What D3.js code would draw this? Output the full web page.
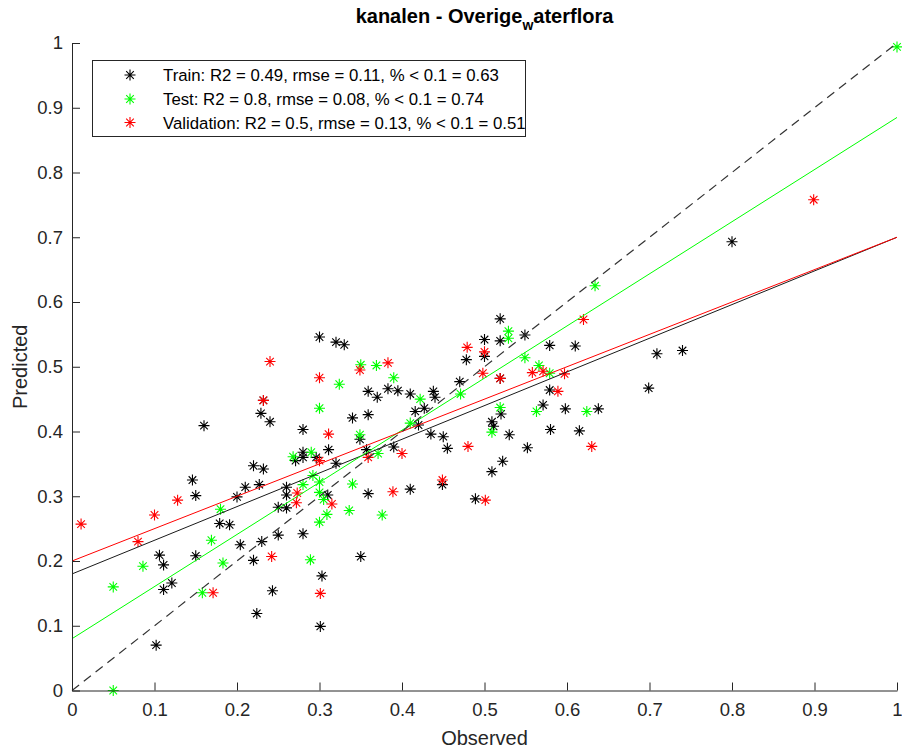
<!DOCTYPE html>
<html>
<head>
<meta charset="utf-8">
<script src="https://cdn.jsdelivr.net/npm/d3@7"></script>
<style>
  html, body { margin: 0; padding: 0; background: #fff; }
  svg { display: block; font-family: "Liberation Sans", Arial, Helvetica, sans-serif; }
</style>
</head>
<body>
<svg id="chart" width="902" height="753"></svg>
<script>
// Observed vs predicted values, [observed, predicted]
const trainPoints = [
  [0.800, 0.693], [0.740, 0.525], [0.709, 0.520], [0.699, 0.467], [0.638, 0.435],
  [0.610, 0.532], [0.615, 0.401], [0.598, 0.435], [0.580, 0.403], [0.579, 0.533],
  [0.579, 0.464], [0.571, 0.441], [0.552, 0.375], [0.549, 0.549], [0.530, 0.395],
  [0.522, 0.354], [0.520, 0.427], [0.519, 0.574], [0.519, 0.540], [0.519, 0.482],
  [0.511, 0.408], [0.509, 0.415], [0.509, 0.338], [0.500, 0.542], [0.500, 0.516],
  [0.489, 0.296], [0.478, 0.511], [0.470, 0.477], [0.455, 0.374], [0.450, 0.392],
  [0.449, 0.318], [0.440, 0.453], [0.438, 0.462], [0.435, 0.396], [0.427, 0.436],
  [0.420, 0.410], [0.416, 0.431], [0.410, 0.458], [0.410, 0.311], [0.395, 0.463],
  [0.390, 0.376], [0.383, 0.466], [0.370, 0.453], [0.359, 0.462], [0.359, 0.426],
  [0.359, 0.304], [0.357, 0.372], [0.350, 0.207], [0.349, 0.388], [0.340, 0.421],
  [0.330, 0.534], [0.320, 0.538], [0.320, 0.351], [0.311, 0.372], [0.310, 0.302],
  [0.303, 0.177], [0.301, 0.099], [0.300, 0.546], [0.296, 0.360], [0.280, 0.403],
  [0.280, 0.368], [0.280, 0.360], [0.280, 0.242], [0.271, 0.355], [0.260, 0.314],
  [0.260, 0.302], [0.260, 0.282], [0.250, 0.283], [0.250, 0.240], [0.243, 0.154],
  [0.240, 0.415], [0.232, 0.448], [0.232, 0.342], [0.230, 0.230], [0.229, 0.428],
  [0.227, 0.318], [0.224, 0.119], [0.220, 0.347], [0.220, 0.201], [0.210, 0.314],
  [0.204, 0.225], [0.200, 0.299], [0.191, 0.256], [0.179, 0.258], [0.160, 0.409],
  [0.150, 0.301], [0.150, 0.208], [0.146, 0.325], [0.121, 0.166], [0.111, 0.194],
  [0.111, 0.156], [0.106, 0.209], [0.102, 0.070]
];
const testPoints = [
  [1.000, 0.994], [0.634, 0.625], [0.624, 0.431], [0.579, 0.490], [0.566, 0.502],
  [0.563, 0.431], [0.549, 0.514], [0.529, 0.555], [0.529, 0.544], [0.519, 0.437],
  [0.509, 0.399], [0.471, 0.458], [0.422, 0.450], [0.410, 0.413], [0.390, 0.483],
  [0.376, 0.271], [0.371, 0.366], [0.369, 0.502], [0.350, 0.503], [0.349, 0.395],
  [0.340, 0.319], [0.336, 0.278], [0.324, 0.473], [0.309, 0.272], [0.305, 0.295],
  [0.300, 0.436], [0.300, 0.322], [0.300, 0.306], [0.300, 0.260], [0.292, 0.332],
  [0.290, 0.368], [0.289, 0.202], [0.280, 0.318], [0.268, 0.361], [0.183, 0.197],
  [0.180, 0.280], [0.169, 0.232], [0.158, 0.151], [0.086, 0.192], [0.050, 0.160],
  [0.050, 0.000]
];
const validationPoints = [
  [0.899, 0.758], [0.630, 0.377], [0.620, 0.573], [0.597, 0.489], [0.589, 0.462],
  [0.571, 0.493], [0.558, 0.491], [0.519, 0.482], [0.501, 0.294], [0.500, 0.523],
  [0.498, 0.490], [0.480, 0.377], [0.479, 0.530], [0.449, 0.325], [0.400, 0.366],
  [0.389, 0.307], [0.383, 0.506], [0.359, 0.360], [0.349, 0.495], [0.315, 0.288],
  [0.311, 0.396], [0.300, 0.483], [0.300, 0.355], [0.301, 0.150], [0.273, 0.305],
  [0.272, 0.290], [0.242, 0.207], [0.240, 0.508], [0.232, 0.448], [0.171, 0.151],
  [0.128, 0.294], [0.100, 0.271], [0.080, 0.230], [0.011, 0.257]
];

// Linear fits per set: predicted at observed = 0 and observed = 1
const trainFit = [0.18, 0.70];
const testFit = [0.08, 0.885];
const validationFit = [0.20, 0.70];

const seriesNames = ["Train", "Test", "Validation"];
const seriesColors = ["#000000", "#00ff00", "#ff0000"];
const legendLabels = [
  "Train: R2 = 0.49, rmse = 0.11, % < 0.1 = 0.63",
  "Test: R2 = 0.8, rmse = 0.08, % < 0.1 = 0.74",
  "Validation: R2 = 0.5, rmse = 0.13, % < 0.1 = 0.51"
];

const tickValues = [0, 0.1, 0.2, 0.3, 0.4, 0.5, 0.6, 0.7, 0.8, 0.9, 1];
const tickLabels = ["0", "0.1", "0.2", "0.3", "0.4", "0.5", "0.6", "0.7", "0.8", "0.9", "1"];

const titleMain = "kanalen - Overige";
const titleSub = "w";
const titleRest = "aterflora";
const xLabel = "Observed";
const yLabel = "Predicted";

const svg = d3.select("#chart");
const axisColor = "#262626";

const x = d3.scaleLinear().domain([0, 1]).range([72, 897]);
const y = d3.scaleLinear().domain([0, 1]).range([690.5, 43]);

// Asterisk marker: plus with a cross through it
const starPath = "M-5.5,0H5.5M0,-5.5V5.5M-3.8,-3.8L3.8,3.8M-3.8,3.8L3.8,-3.8";

const allSeries = [trainPoints, testPoints, validationPoints];
allSeries.forEach((pts, i) => {
  svg.append("g")
    .selectAll("path")
    .data(pts)
    .join("path")
    .attr("d", starPath)
    .attr("transform", d => `translate(${x(d[0])},${y(d[1])})`)
    .attr("fill", "none")
    .attr("stroke", seriesColors[i])
    .attr("stroke-width", 1.1);
});

// Fit lines
const line = d3.line().x(d => x(d[0])).y(d => y(d[1]));
const fits = [trainFit, testFit, validationFit];
const fitStroke = ["#1a1a1a", "#00ff00", "#ff0000"];
fits.forEach((f, i) => {
  svg.append("path")
    .datum([[0, f[0]], [1, f[1]]])
    .attr("d", line)
    .attr("fill", "none")
    .attr("stroke", fitStroke[i])
    .attr("stroke-width", 1);
});

// 1:1 reference line
svg.append("path")
  .datum([[0, 0], [1, 1]])
  .attr("d", line)
  .attr("fill", "none")
  .attr("stroke", "#333")
  .attr("stroke-width", 1.2)
  .attr("stroke-dasharray", "9,6");

// Axes with inward ticks
const fmt = d => tickLabels[tickValues.indexOf(d)];
const xAxis = d3.axisBottom(x).tickValues(tickValues).tickFormat(fmt)
  .tickSizeInner(-8).tickSizeOuter(0).tickPadding(12);
const yAxis = d3.axisLeft(y).tickValues(tickValues).tickFormat(fmt)
  .tickSizeInner(-8).tickSizeOuter(0).tickPadding(9);

const gx = svg.append("g").attr("transform", `translate(0,${y(0)})`).call(xAxis);
const gy = svg.append("g").attr("transform", `translate(${x(0)},0)`).call(yAxis);
[gx, gy].forEach(g => {
  g.select(".domain").attr("stroke", axisColor).attr("stroke-width", 1);
  g.selectAll(".tick line").attr("stroke", axisColor).attr("stroke-width", 1);
  g.selectAll(".tick text").attr("fill", axisColor)
    .style("font-size", "18.5px")
    .style("font-family", "'Liberation Sans', Arial, sans-serif");
});

// Axis labels
svg.append("text")
  .attr("x", (x(0) + x(1)) / 2).attr("y", 745)
  .attr("text-anchor", "middle")
  .attr("fill", axisColor)
  .style("font-size", "20px")
  .text(xLabel);

svg.append("text")
  .attr("transform", `translate(27,${(y(0) + y(1)) / 2}) rotate(-90)`)
  .attr("text-anchor", "middle")
  .attr("fill", axisColor)
  .style("font-size", "20px")
  .text(yLabel);

// Title with subscript
const title = svg.append("text")
  .attr("x", (x(0) + x(1)) / 2).attr("y", 23)
  .attr("text-anchor", "middle")
  .attr("fill", "#000")
  .style("font-size", "20px")
  .style("font-weight", "bold");
title.append("tspan").text(titleMain);
title.append("tspan").attr("dy", 7).style("font-size", "14px").text(titleSub);
title.append("tspan").attr("dy", -7).text(titleRest);

// Legend
const legend = svg.append("g");
legend.append("rect")
  .attr("x", 92.5).attr("y", 60.5)
  .attr("width", 433).attr("height", 76)
  .attr("fill", "#fff")
  .attr("stroke", axisColor)
  .attr("stroke-width", 1);
const rowY = [75, 99, 122.5];
seriesNames.forEach((name, i) => {
  legend.append("path")
    .attr("d", starPath)
    .attr("transform", `translate(130,${rowY[i]})`)
    .attr("fill", "none")
    .attr("stroke", seriesColors[i])
    .attr("stroke-width", 1.1);
  legend.append("text")
    .attr("x", 163).attr("y", rowY[i])
    .attr("dy", "0.36em")
    .attr("fill", "#000")
    .style("font-size", "16.8px")
    .text(legendLabels[i]);
});
</script>
</body>
</html>
